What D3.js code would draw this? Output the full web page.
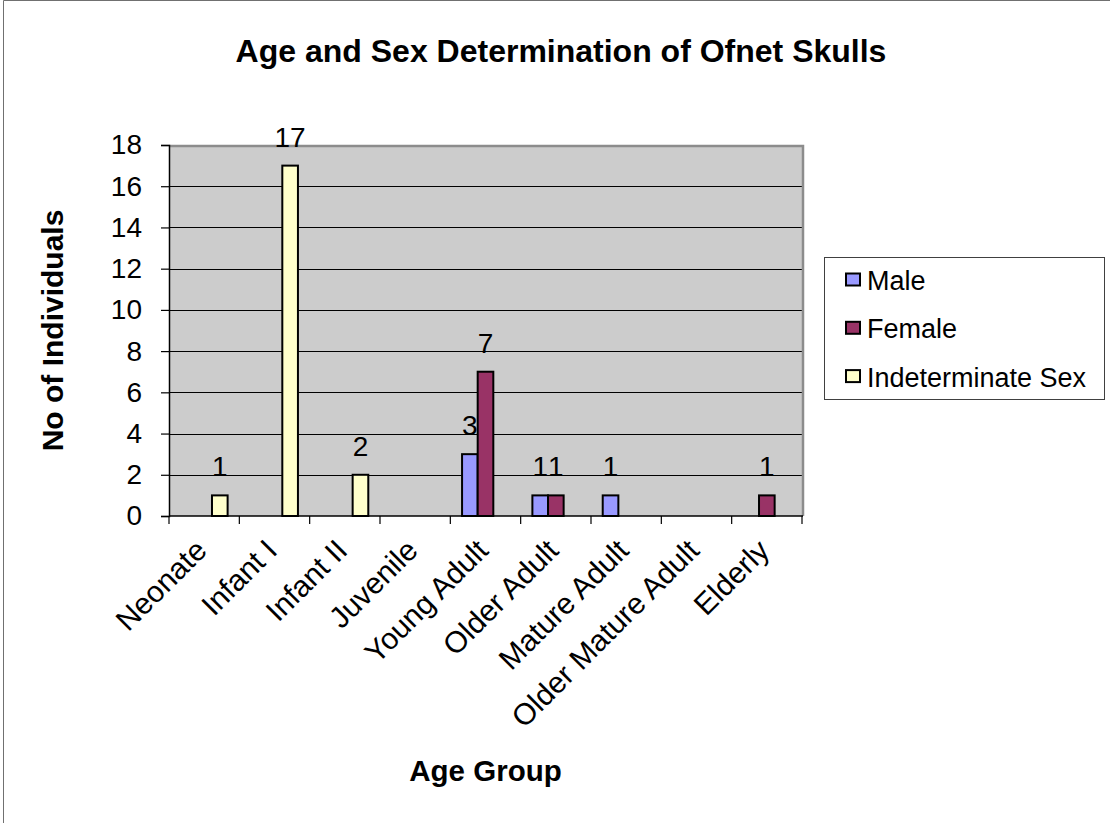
<!DOCTYPE html>
<html>
<head>
<meta charset="utf-8">
<script src="https://cdn.jsdelivr.net/npm/d3@7"></script>
<style>
  html, body { margin: 0; padding: 0; background: #ffffff; }
  svg { display: block; font-family: "Liberation Sans", Arial, sans-serif; }
</style>
</head>
<body>
<svg id="chart" width="1110" height="823"></svg>
<script>
// Age groups along the x axis
const categories = ["Neonate", "Infant I", "Infant II", "Juvenile", "Young Adult",
                    "Older Adult", "Mature Adult", "Older Mature Adult", "Elderly"];
// Counts per series (null = empty cell, no bar and no label)
const male          = [null, null, null, null, 3, 1, 1, null, null];
const female        = [null, null, null, null, 7, 1, null, null, 1];
const indeterminate = [1, 17, 2, null, null, null, null, null, null];
const seriesNames   = ["Male", "Female", "Indeterminate Sex"];
const seriesColors  = ["#9999FF", "#993366", "#FFFFCC"];
const yTicks        = [0, 2, 4, 6, 8, 10, 12, 14, 16, 18];

const series = [male, female, indeterminate].map((vals, i) => ({
  name: seriesNames[i], color: seriesColors[i], values: vals
}));

const svg = d3.select("#chart");

// Chart-area border (only its top and left edges fall inside the frame)
svg.append("line").attr("x1", 3.5).attr("y1", 0.5).attr("x2", 1110).attr("y2", 0.5)
  .attr("stroke", "#707070").attr("stroke-width", 1);
svg.append("line").attr("x1", 3.5).attr("y1", 0.5).attr("x2", 3.5).attr("y2", 823)
  .attr("stroke", "#707070").attr("stroke-width", 1);

const plot = { left: 169, right: 802, top: 145, bottom: 516 };

const x = d3.scaleBand().domain(categories).range([plot.left, plot.right]).padding(0);
const y = d3.scaleLinear().domain([0, 18]).range([plot.bottom, plot.top]);

// Clustered layout: gap width 150% of one bar
const barW = x.bandwidth() / (series.length + 1.5);
const groupOffset = barW * 0.75;
const xs = d3.scaleBand().domain(d3.range(series.length))
  .range([groupOffset, groupOffset + barW * series.length]).padding(0);

// Plot area background
svg.append("rect")
  .attr("x", plot.left).attr("y", plot.top)
  .attr("width", plot.right - plot.left).attr("height", plot.bottom - plot.top)
  .attr("fill", "#CCCCCC");

// Horizontal gridlines
svg.append("g")
  .selectAll("line")
  .data(yTicks.filter(t => t > 0 && t < 18))
  .join("line")
  .attr("x1", plot.left).attr("x2", plot.right)
  .attr("y1", d => Math.round(y(d)) + 0.5).attr("y2", d => Math.round(y(d)) + 0.5)
  .attr("stroke", "#000").attr("stroke-width", 1);

// Plot area border: top and right edges in gray
svg.append("path")
  .attr("d", `M${plot.left},${plot.top + 1} H${plot.right + 1} V${plot.bottom}`)
  .attr("fill", "none").attr("stroke", "#8c8c8c").attr("stroke-width", 2.5);

// Bars
const groups = svg.append("g").selectAll("g")
  .data(series)
  .join("g")
  .attr("fill", d => d.color);

groups.each(function(s, si) {
  d3.select(this).selectAll("rect")
    .data(categories.map((c, ci) => ({ c, v: s.values[ci] })).filter(d => d.v != null))
    .join("rect")
    .attr("x", d => x(d.c) + xs(si))
    .attr("y", d => y(d.v))
    .attr("width", xs.bandwidth())
    .attr("height", d => y(0) - y(d.v))
    .attr("stroke", "#000")
    .attr("stroke-width", 2);
});

// Data labels above each bar
groups.each(function(s, si) {
  d3.select(this).selectAll("text")
    .data(categories.map((c, ci) => ({ c, v: s.values[ci] })).filter(d => d.v != null))
    .join("text")
    .attr("x", d => x(d.c) + xs(si) + xs.bandwidth() / 2)
    .attr("y", d => y(d.v) - 19)
    .attr("text-anchor", "middle")
    .attr("fill", "#000")
    .attr("font-size", 28)
    .text(d => d.v);
});

// Y axis
const yAxis = d3.axisLeft(y).tickValues(yTicks).tickSize(8).tickPadding(19);
const gy = svg.append("g").attr("transform", `translate(${plot.left},0)`).call(yAxis);
gy.select(".domain").attr("stroke", "#000").attr("stroke-width", 1.5);
gy.selectAll(".tick line").attr("stroke", "#000").attr("stroke-width", 1.2);
gy.selectAll(".tick text").attr("font-size", 28).attr("fill", "#000")
  .attr("font-family", "Liberation Sans, Arial, sans-serif");

// X axis: ticks at category boundaries, rotated labels at category centres
const gx = svg.append("g").attr("transform", `translate(0,${plot.bottom})`);
gx.append("line").attr("x1", plot.left).attr("x2", plot.right + 1)
  .attr("y1", 0).attr("y2", 0).attr("stroke", "#000").attr("stroke-width", 1.5);
gx.selectAll("line.tk")
  .data(d3.range(categories.length + 1))
  .join("line").attr("class", "tk")
  .attr("x1", i => plot.left + i * x.step()).attr("x2", i => plot.left + i * x.step())
  .attr("y1", 0).attr("y2", 8)
  .attr("stroke", "#000").attr("stroke-width", 1.2);
gx.selectAll("text")
  .data(categories)
  .join("text")
  .attr("transform", d => `translate(${x(d) + x.bandwidth() / 2 - 11},${21}) rotate(-45)`)
  .attr("text-anchor", "end")
  .attr("dy", "0.72em")
  .attr("font-size", 30)
  .attr("fill", "#000")
  .text(d => d);

// Titles
svg.append("text")
  .attr("x", 561).attr("y", 62)
  .attr("text-anchor", "middle")
  .attr("font-size", 32).attr("font-weight", "bold")
  .text("Age and Sex Determination of Ofnet Skulls");

svg.append("text")
  .attr("x", (plot.left + plot.right) / 2).attr("y", 781)
  .attr("text-anchor", "middle")
  .attr("font-size", 29.5).attr("font-weight", "bold")
  .text("Age Group");

svg.append("text")
  .attr("transform", `translate(63,${(plot.top + plot.bottom) / 2}) rotate(-90)`)
  .attr("text-anchor", "middle")
  .attr("font-size", 30).attr("font-weight", "bold")
  .text("No of Individuals");

// Legend
const legend = svg.append("g");
legend.append("rect")
  .attr("x", 824.5).attr("y", 257.5).attr("width", 280).attr("height", 142)
  .attr("fill", "#fff").attr("stroke", "#404040").attr("stroke-width", 1);
const li = legend.selectAll("g.item").data(series).join("g").attr("class", "item")
  .attr("transform", (d, i) => `translate(0,${i * 48.3})`);
li.append("rect")
  .attr("x", 846).attr("y", 273.5).attr("width", 14).attr("height", 12)
  .attr("fill", d => d.color).attr("stroke", "#000").attr("stroke-width", 2);
li.append("text")
  .attr("x", 867).attr("y", 290)
  .attr("font-size", 27).attr("fill", "#000")
  .text(d => d.name);
</script>
</body>
</html>
